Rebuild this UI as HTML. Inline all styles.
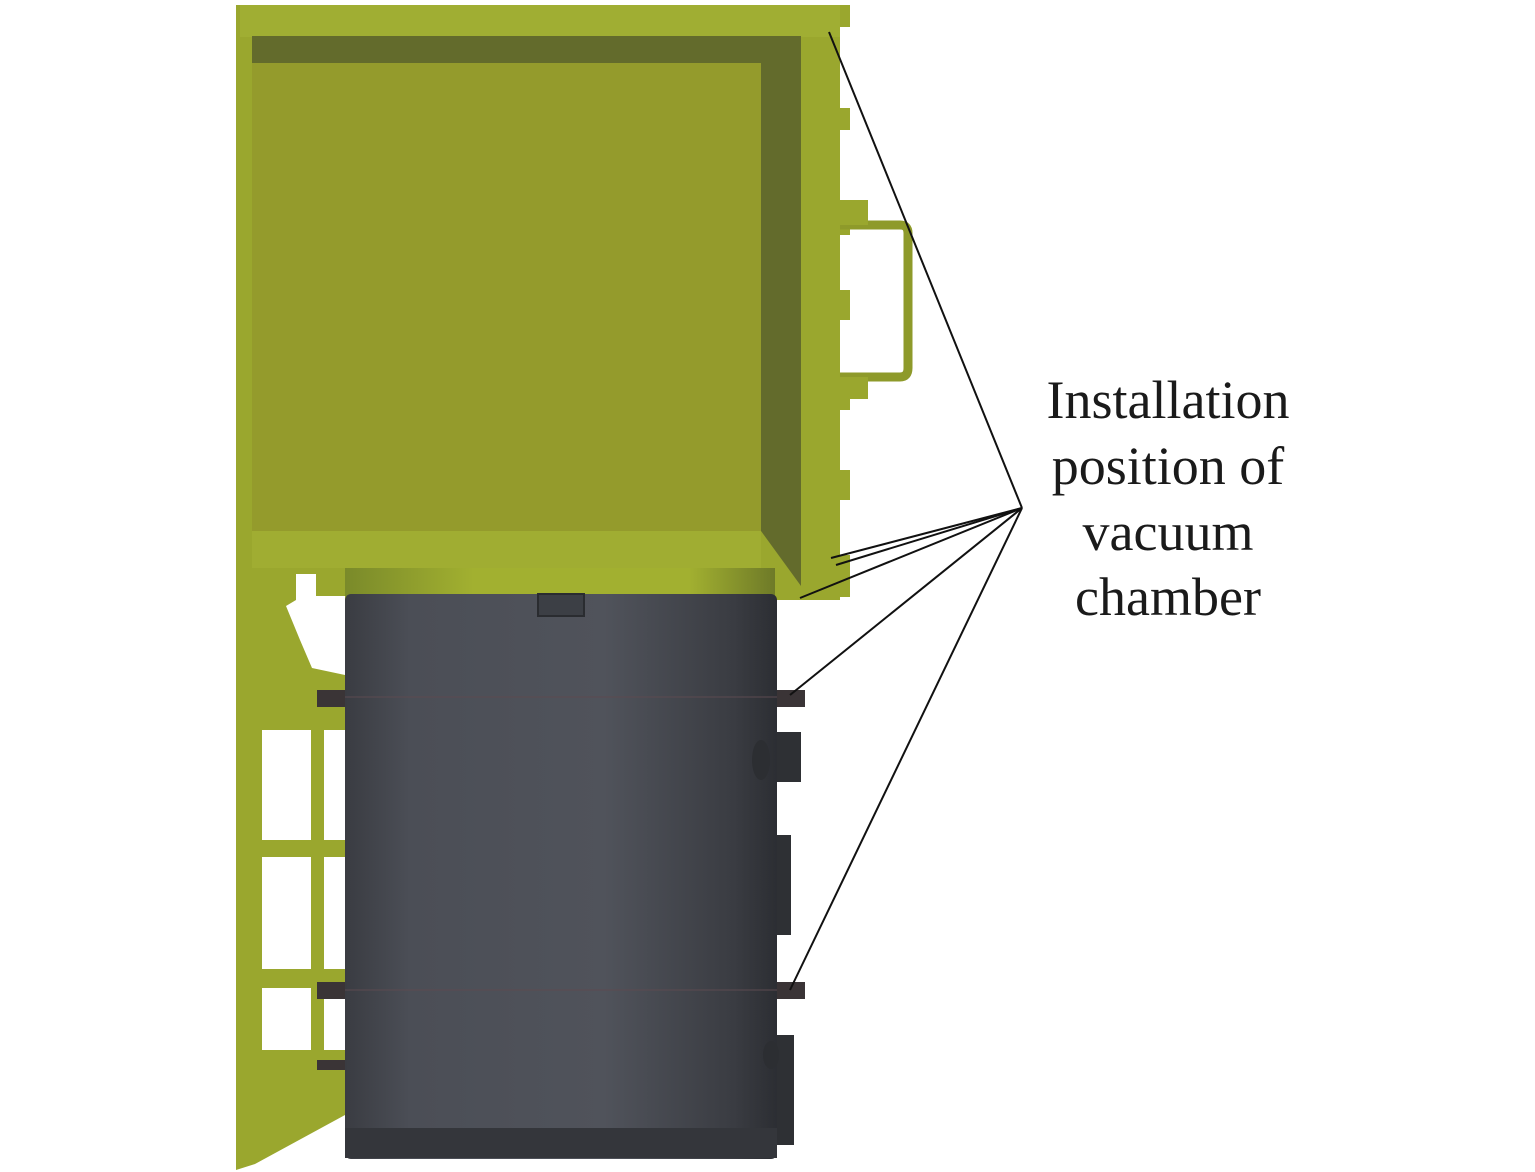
<!DOCTYPE html>
<html><head><style>html,body{margin:0;padding:0;background:#fff}svg{display:block}</style></head>
<body>
<svg width="1535" height="1172" viewBox="0 0 1535 1172" xmlns="http://www.w3.org/2000/svg">
<defs>
<linearGradient id="cyl" x1="0" x2="1" y1="0" y2="0">
<stop offset="0" stop-color="#3a3c42"/><stop offset="0.15" stop-color="#4b4e56"/><stop offset="0.6" stop-color="#50535b"/><stop offset="0.9" stop-color="#3a3c42"/><stop offset="1" stop-color="#2c2e33"/>
</linearGradient>
<linearGradient id="fl" x1="0" x2="1"><stop offset="0" stop-color="#7a8a2a"/><stop offset="0.3" stop-color="#a2b030"/><stop offset="0.8" stop-color="#a2b030"/><stop offset="1" stop-color="#6e7a28"/></linearGradient>
</defs>
<rect x="236" y="5" width="604" height="595" fill="#9aa72e"/>
<rect x="240" y="5" width="600" height="32" fill="#a0ae33"/>
<rect x="840" y="5" width="10" height="22" fill="#9aa72e"/>
<rect x="840" y="108" width="10" height="22" fill="#9aa72e"/>
<rect x="840" y="200" width="10" height="35" fill="#9aa72e"/>
<rect x="840" y="290" width="10" height="30" fill="#9aa72e"/>
<rect x="840" y="380" width="10" height="30" fill="#9aa72e"/>
<rect x="840" y="470" width="10" height="30" fill="#9aa72e"/>
<rect x="840" y="555" width="10" height="42" fill="#9aa72e"/>
<rect x="252" y="36" width="549" height="27" fill="#636b2c"/>
<polygon points="761,36 801,36 801,586 761,531" fill="#636b2c"/>
<rect x="252" y="63" width="509" height="468" fill="#949b2c"/>
<rect x="252" y="531" width="509" height="37" fill="#a0ad32"/>
<path d="M840 225 H900 Q908 225 908 233 V368 Q908 377 900 377 H840" fill="none" stroke="#8e9a2a" stroke-width="9"/>
<rect x="840" y="200" width="28" height="25" fill="#9aa72e"/>
<rect x="840" y="377" width="28" height="22" fill="#9aa72e"/>
<polygon points="236,595 345,595 345,1115 255,1164 236,1170" fill="#9aa72e"/>
<polygon points="296,574 316,574 316,596 345,596 345,675 312,668 300,640 286,606 296,600" fill="#fff"/>
<rect x="262" y="730" width="49" height="110" fill="#fff"/>
<rect x="262" y="857" width="49" height="112" fill="#fff"/>
<rect x="262" y="988" width="49" height="62" fill="#fff"/>
<rect x="324" y="730" width="21" height="110" fill="#fff"/>
<rect x="324" y="857" width="21" height="112" fill="#fff"/>
<rect x="324" y="988" width="21" height="62" fill="#fff"/>
<rect x="345" y="568" width="430" height="28" fill="url(#fl)"/>
<rect x="345" y="594" width="432" height="565" rx="6" fill="url(#cyl)"/>
<rect x="538" y="594" width="46" height="22" fill="#3c3f45" stroke="#2a2c30" stroke-width="2"/>
<rect x="345" y="1128" width="432" height="30" fill="#34363b"/>
<line x1="345" y1="697" x2="777" y2="697" stroke="#5c4a50" stroke-width="1"/>
<line x1="345" y1="990" x2="777" y2="990" stroke="#5c4a50" stroke-width="1"/>
<rect x="317" y="690" width="28" height="17" fill="#3a3436"/>
<rect x="777" y="690" width="28" height="17" fill="#3a3436"/>
<rect x="317" y="982" width="28" height="17" fill="#3a3436"/>
<rect x="777" y="982" width="28" height="17" fill="#3a3436"/>
<rect x="317" y="1060" width="28" height="10" fill="#3a3436"/>
<rect x="777" y="732" width="24" height="50" fill="#2e3034"/>
<ellipse cx="761" cy="760" rx="9" ry="20" fill="#2c2e32"/>
<rect x="777" y="835" width="14" height="100" fill="#2e3034"/>
<rect x="777" y="1035" width="17" height="110" fill="#2e3034"/>
<ellipse cx="771" cy="1055" rx="8" ry="14" fill="#2c2e32"/>
<g stroke="#111" stroke-width="2" fill="none">
<line x1="1022" y1="508" x2="829" y2="32"/>
<line x1="1022" y1="508" x2="831" y2="558"/>
<line x1="1022" y1="508" x2="836" y2="565"/>
<line x1="1022" y1="508" x2="800" y2="598"/>
<line x1="1022" y1="508" x2="790" y2="695"/>
<line x1="1022" y1="508" x2="790" y2="990"/>
</g>
<g font-family="Liberation Serif, serif" font-size="54" fill="#1a1a1a" text-anchor="middle">
<text x="1168" y="418">Installation</text>
<text x="1168" y="484">position of</text>
<text x="1168" y="550">vacuum</text>
<text x="1168" y="615">chamber</text>
</g>
</svg>
</body></html>
